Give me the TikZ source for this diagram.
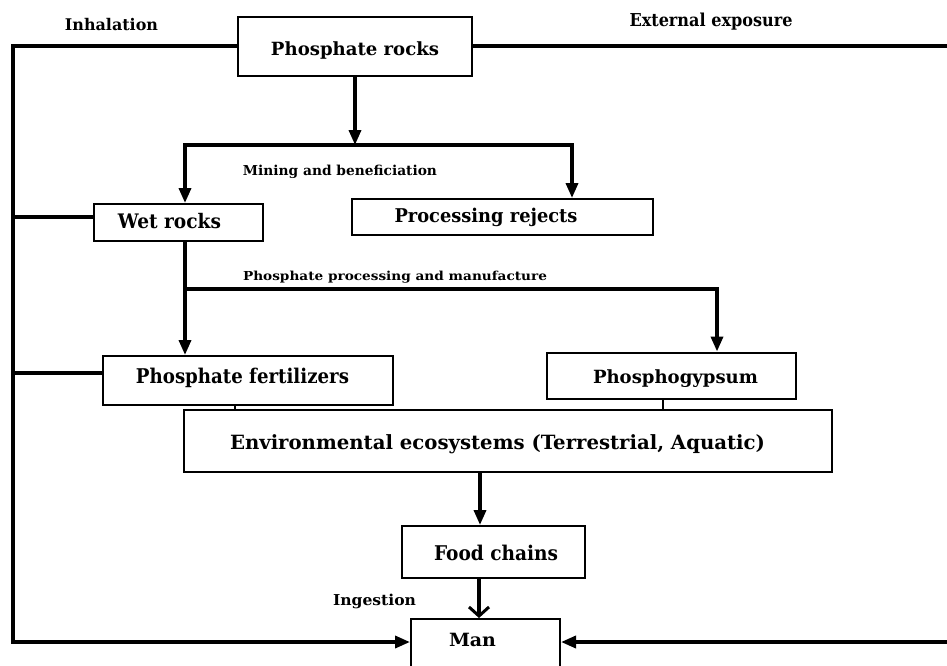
\documentclass[tikz,border=0pt]{standalone}
\usepackage{fontspec}
\usepackage{graphicx}
\setmainfont{DejaVu Serif}
\usetikzlibrary{arrows.meta}
\newcommand{\fw}[3]{\resizebox{#1}{#2}{\bfseries #3}}
\tikzset{
  box/.style={draw, line width=2pt, inner sep=0pt, text depth=0pt},
  conn/.style={line width=3.5pt},
  thinconn/.style={line width=2.5pt},
  tip/.style={-{Triangle[length=15pt,width=12pt]}},
  tiptip/.style={{Triangle[length=15pt,width=12pt]}-{Triangle[length=15pt,width=12pt]}},
  opentip/.style={-{Straight Barb[length=9pt,width=20pt,line width=3pt]}},
  lbl/.style={inner sep=0pt, text depth=0pt}
}
\begin{document}
\begin{tikzpicture}[x=1pt,y=-1pt]
\clip (0,0) rectangle (947,665);
% boxes
\node[box, minimum width=234pt, minimum height=59pt, text height=19.9pt] (rocks) at (355,46) {\fw{168pt}{13.8pt}{Phosphate rocks}};
\node[box, minimum width=169pt, minimum height=37pt, text height=11pt] (wet) at (178.5,222.5) {\fw{103pt}{15.2pt}{Wet rocks}\hspace*{18pt}};
\node[box, minimum width=301pt, minimum height=36pt, text height=10pt] (rejects) at (502.5,217) {\fw{183pt}{14.4pt}{Processing rejects}\hspace*{33pt}};
\node[box, minimum width=290pt, minimum height=49pt, text height=5pt] (fert) at (248,380.5) {\fw{213pt}{15.4pt}{Phosphate fertilizers}\hspace*{11pt}};
\node[box, minimum width=249pt, minimum height=46pt, text height=15.3pt] (gyp) at (671.5,375.5) {\hspace*{8pt}\fw{165pt}{13.8pt}{Phosphogypsum}};
\node[box, minimum width=648pt, minimum height=62pt, text height=16.3pt] (env) at (508,441) {\fw{535pt}{14.9pt}{Environmental ecosystems (Terrestrial, Aquatic)}\hspace*{21pt}};
\node[box, minimum width=183pt, minimum height=52pt, text height=16pt] (food) at (493.5,552) {\hspace*{5pt}\fw{124pt}{15.4pt}{Food chains}};
\node[box, minimum width=149pt, minimum height=60pt] (man) at (485.5,649) {};
\node[lbl, text height=13.3pt] (mantext) at (472.5,640) {\fw{47pt}{13.3pt}{Man}};
% coordinates
\coordinate (lt) at (13,46);
\coordinate (lb) at (13,642);
\coordinate (rt) at (962,46);
\coordinate (rb) at (962,642);
\coordinate (b1l) at (185,145);
\coordinate (b1r) at (572,145);
\coordinate (b2l) at (185,289);
\coordinate (b2r) at (717,289);
\coordinate (f1) at (235,0);
\coordinate (g1) at (663,0);
\coordinate (e1) at (480,0);
\coordinate (f2) at (479,0);
% connectors
\draw[conn, tip] (rocks.west) -- (lt) -- (lb) -- (lb -| man.west);
\draw[conn, tip] (rocks.east) -- (rt) -- (rb) -- (rb -| man.east);
\draw[conn] ([yshift=5.5pt]wet.west) -- ([yshift=5.5pt]wet.west -| lt);
\draw[conn] ([yshift=7.5pt]fert.west) -- ([yshift=7.5pt]fert.west -| lt);
\draw[conn, tip] (rocks.south) -- (rocks.south |- b1l);
\draw[conn, tiptip] (b1l |- wet.north) -- (b1l) -- (b1r) -- (b1r |- rejects.north);
\draw[conn, tip] (b2l |- wet.south) -- (b2l |- fert.north);
\draw[conn, tip] (b2l) -- (b2r) -- (b2r |- gyp.north);
\draw[thinconn] (f1 |- fert.south) -- (f1 |- env.north);
\draw[thinconn] (g1 |- gyp.south) -- (g1 |- env.north);
\draw[conn, tip] (e1 |- env.south) -- (e1 |- food.north);
\draw[conn, opentip] (f2 |- food.south) -- (f2 |- man.north);
% labels
\node[lbl, text height=11.7pt] (inh) at (111.5,24.2) {\fw{93pt}{12.2pt}{Inhalation}};
\node[lbl, text height=13pt] (ext) at (711,19.5) {\fw{163pt}{13.5pt}{External exposure}};
\node[lbl, text height=10pt] (mining) at (340,170) {\fw{194pt}{10.4pt}{Mining and beneficiation}};
\node[lbl, text height=9pt] (proc) at (395,276) {\fw{304pt}{9.4pt}{Phosphate processing and manufacture}};
\node[lbl, text height=11pt] (ing) at (374.5,599.5) {\fw{83pt}{11.4pt}{Ingestion}};
\end{tikzpicture}
\end{document}
